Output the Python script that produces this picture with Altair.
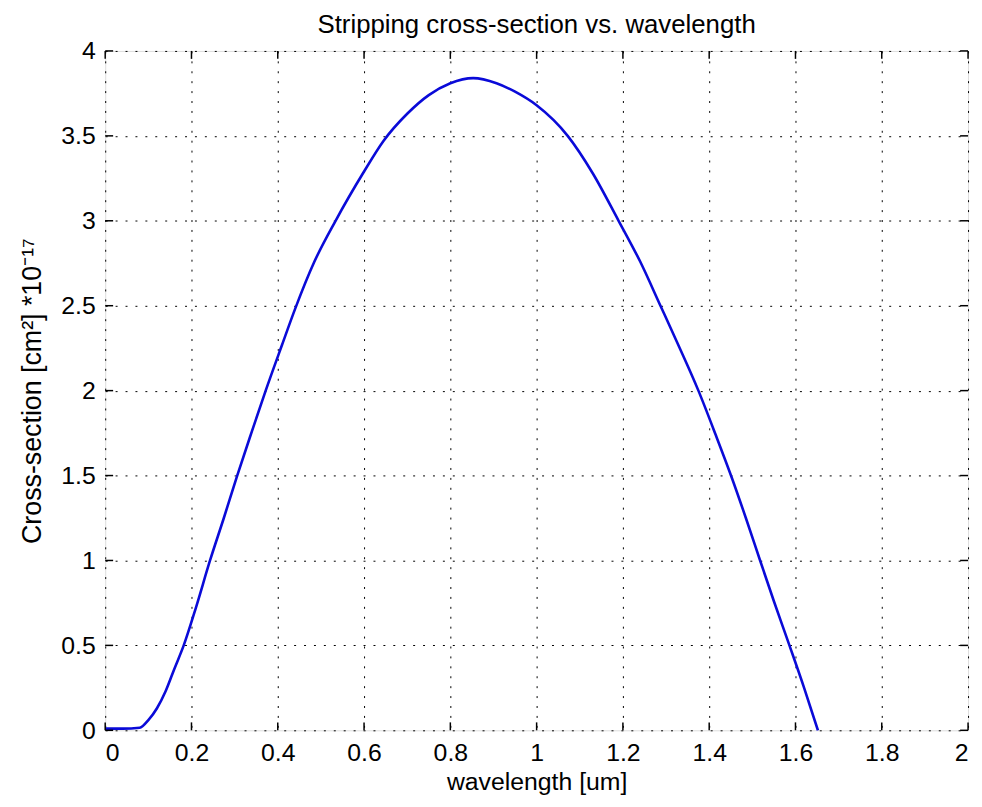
import altair as alt
import pandas as pd

# curve (wavelength in um, cross-section in 1e-17 cm^2)
wavelength = [0.0, 0.04, 0.08, 0.10, 0.12, 0.14, 0.16, 0.182, 0.21, 0.243, 0.275, 0.306,
              0.34, 0.372, 0.41, 0.44, 0.485, 0.534, 0.60, 0.645, 0.70, 0.75, 0.80, 0.853,
              0.907, 0.95, 1.00, 1.072, 1.13, 1.19, 1.24, 1.287, 1.33, 1.375, 1.415, 1.452,
              1.485, 1.518, 1.55, 1.586, 1.62, 1.652]
cross_section = [0.01, 0.01, 0.015, 0.06, 0.13, 0.23, 0.36, 0.50, 0.72, 1.00, 1.25, 1.50,
                 1.76, 2.00, 2.27, 2.48, 2.76, 3.00, 3.29, 3.47, 3.63, 3.74, 3.81, 3.84,
                 3.81, 3.76, 3.68, 3.50, 3.28, 3.00, 2.76, 2.50, 2.26, 2.00, 1.74, 1.49,
                 1.25, 1.00, 0.76, 0.50, 0.25, 0.00]

x_ticks = [0, 0.2, 0.4, 0.6, 0.8, 1, 1.2, 1.4, 1.6, 1.8, 2]
y_ticks = [0, 0.5, 1, 1.5, 2, 2.5, 3, 3.5, 4]

W, H = 870, 685
FONT = "Liberation Sans"
TL = 8  # inward tick length

df = pd.DataFrame({"wavelength": wavelength, "cs": cross_section})
dx = pd.DataFrame({"t": x_ticks})
dy = pd.DataFrame({"t": y_ticks})

xscale = alt.Scale(domain=[0, 2], nice=False, zero=False)
yscale = alt.Scale(domain=[0, 4], nice=False, zero=False)

common_axis = dict(grid=True, gridDash=[2, 8], gridColor="#000000", gridOpacity=1,
                   gridWidth=1, tickSize=0, domain=False,
                   labelFontSize=25, labelFont=FONT, labelColor="#000000",
                   titleFont=FONT, titleFontWeight="normal", titleColor="#000000")

line = alt.Chart(df).mark_line(color="#0a0ad8", strokeWidth=2.6,
                               interpolate="monotone").encode(
    x=alt.X("wavelength:Q", scale=xscale,
            axis=alt.Axis(values=x_ticks, format="~g", title="wavelength [um]",
                          labelPadding=10, titlePadding=5, titleFontSize=25,
                          **common_axis)),
    y=alt.Y("cs:Q", scale=yscale,
            axis=alt.Axis(values=y_ticks, format="~g",
                          title="Cross-section [cm²] *10⁻¹⁷",
                          labelPadding=10, titlePadding=14, titleFontSize=27,
                          **common_axis)),
)

tick_style = dict(color="#000000", strokeWidth=1.5)
bx = alt.Chart(dx).mark_rule(**tick_style).encode(
    x=alt.X("t:Q", scale=xscale), y=alt.value(H), y2=alt.value(H - TL))
tx = alt.Chart(dx).mark_rule(**tick_style).encode(
    x=alt.X("t:Q", scale=xscale), y=alt.value(0), y2=alt.value(TL))
ly = alt.Chart(dy).mark_rule(**tick_style).encode(
    y=alt.Y("t:Q", scale=yscale), x=alt.value(0), x2=alt.value(TL))
ry = alt.Chart(dy).mark_rule(**tick_style).encode(
    y=alt.Y("t:Q", scale=yscale), x=alt.value(W), x2=alt.value(W - TL))

chart = alt.layer(line, bx, tx, ly, ry).properties(
    width=W, height=H,
    title=alt.TitleParams("Stripping cross-section vs. wavelength", font=FONT,
                          fontSize=26, fontWeight="normal", color="#000000",
                          anchor="middle", offset=1),
    autosize=alt.AutoSizeParams(type="none"),
    padding={"left": 98, "top": 40, "right": 6, "bottom": 70},
).configure_view(stroke="#000000", strokeWidth=1.5).configure(background="#ffffff")

chart.save("out.html", embed_options={"renderer": "svg", "actions": False})
